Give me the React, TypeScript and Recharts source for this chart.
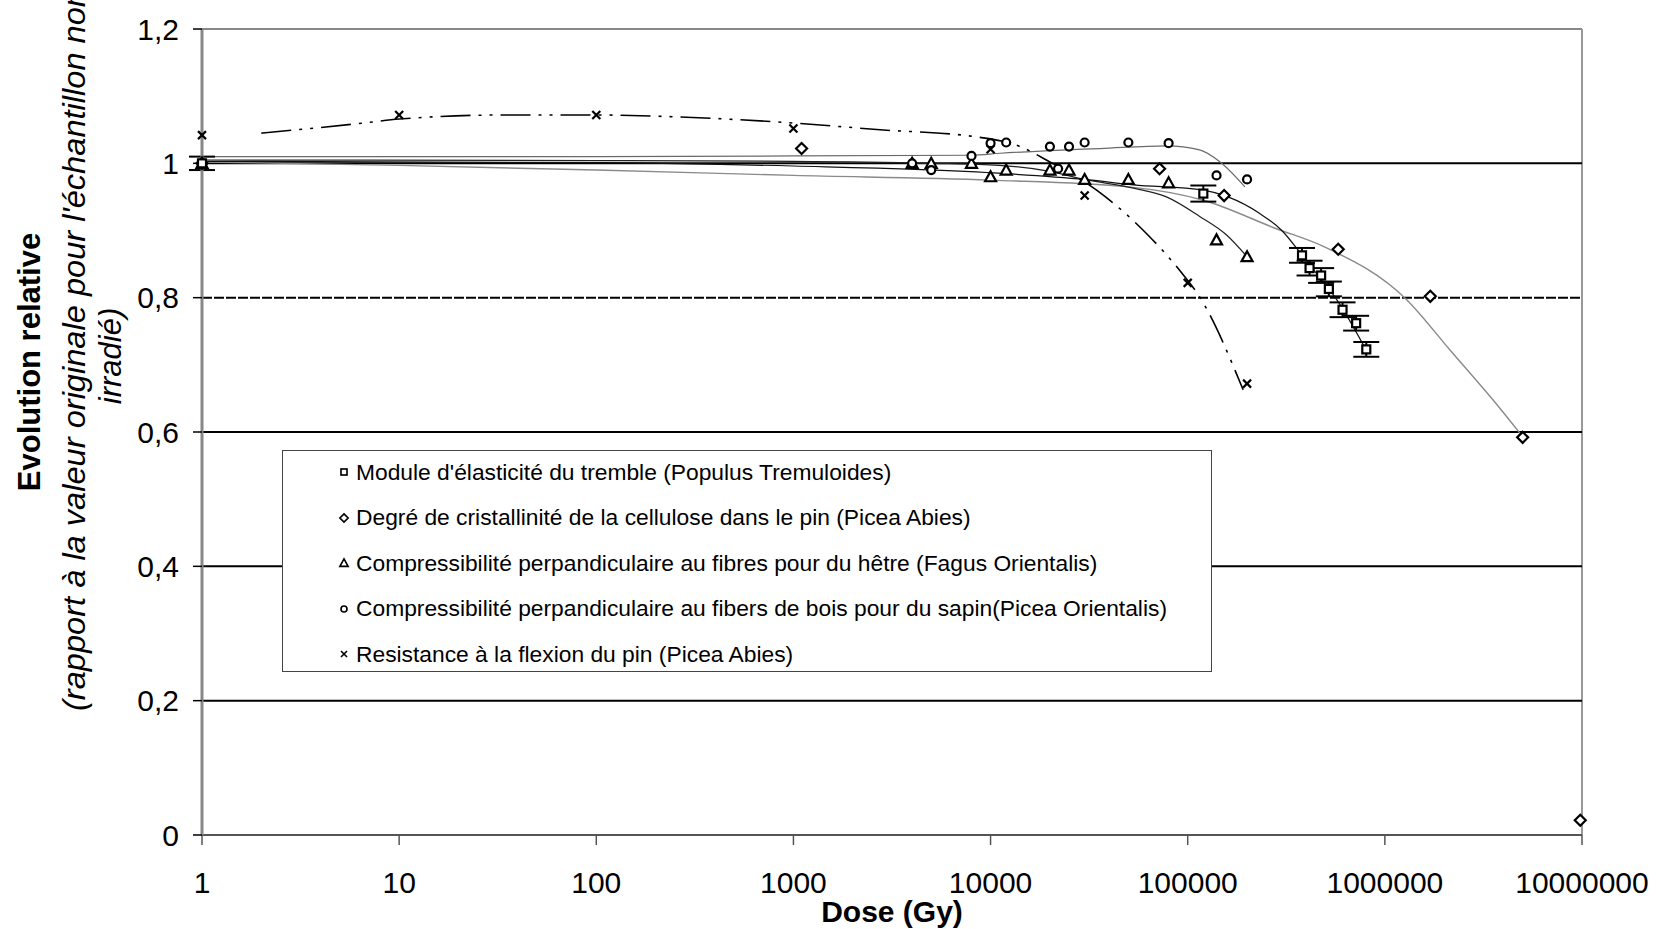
import React from 'react';
import {
  ComposedChart,
  Scatter,
  Line,
  XAxis,
  YAxis,
  ErrorBar,
  ReferenceLine,
} from 'recharts';

// measured points
const squareX = [1, 120000, 380000, 415000, 475000, 520000, 610000, 715000, 805000];
const squareY = [1.0, 0.955, 0.863, 0.844, 0.833, 0.813, 0.782, 0.762, 0.723];
const squareErr = [0.01, 0.012, 0.011, 0.011, 0.011, 0.011, 0.011, 0.011, 0.011];

const diamondX = [1, 1100, 72000, 153000, 580000, 1700000, 5000000, 9800000];
const diamondY = [1.0, 1.022, 0.992, 0.952, 0.872, 0.802, 0.592, 0.022];

const triangleX = [1, 4000, 5000, 8000, 10000, 12000, 20000, 25000, 30000, 50000, 80000, 140000, 200000];
const triangleY = [1.0, 1.0, 1.0, 1.0, 0.98, 0.99, 0.99, 0.99, 0.976, 0.976, 0.971, 0.886, 0.861];

const circleX = [1, 4000, 5000, 8000, 10000, 12000, 20000, 22000, 25000, 30000, 50000, 80000, 140000, 200000];
const circleY = [1.0, 1.0, 0.99, 1.011, 1.03, 1.031, 1.025, 0.992, 1.025, 1.031, 1.031, 1.03, 0.982, 0.976];

const crossX = [1, 10, 100, 1000, 10000, 30000, 100000, 200000];
const crossY = [1.042, 1.072, 1.072, 1.052, 1.021, 0.952, 0.822, 0.672];

// trend lines
const squareTrendX = [1, 100, 1000, 10000, 30000, 53000, 120000, 160000, 230000, 300000, 370000, 450000, 570000, 810000];
const squareTrendY = [1.003, 1.001, 0.996, 0.986, 0.976, 0.968, 0.96, 0.95, 0.926, 0.9, 0.868, 0.836, 0.797, 0.72];

const diamondTrendX = [1, 10, 100, 1000, 10000, 50000, 120000, 280000, 490000, 1290000, 2140000, 3840000, 4850000];
const diamondTrendY = [1.002, 0.997, 0.99, 0.982, 0.975, 0.965, 0.945, 0.903, 0.876, 0.797, 0.722, 0.635, 0.598];

const triangleTrendX = [1, 100, 1000, 5000, 11000, 20000, 30000, 53000, 78000, 115000, 158000, 200000];
const triangleTrendY = [1.005, 1.004, 1.003, 1.0, 0.997, 0.988, 0.976, 0.963, 0.95, 0.921, 0.893, 0.861];

const circleTrendX = [1, 100, 1000, 8000, 11200, 20000, 36000, 78000, 115000, 146000, 195000];
const circleTrendY = [1.01, 1.01, 1.011, 1.012, 1.015, 1.019, 1.022, 1.026, 1.02, 1.002, 0.965];

const crossTrendX = [2, 6.6, 10, 35, 100, 266, 1000, 2750, 8170, 14100, 20000, 34500, 63000, 91400, 115000, 191000];
const crossTrendY = [1.045, 1.06, 1.066, 1.072, 1.072, 1.069, 1.06, 1.05, 1.04, 1.025, 1.002, 0.96, 0.893, 0.84, 0.801, 0.663];

const xTicks = [1, 10, 100, 1000, 10000, 100000, 1000000, 10000000];
const yTicks = [0, 0.2, 0.4, 0.6, 0.8, 1, 1.2];

const seriesNames = [
  "Module d'élasticité du tremble (Populus Tremuloides)",
  'Degré de cristallinité de la cellulose dans le pin (Picea Abies)',
  'Compressibilité perpandiculaire au fibres pour du hêtre (Fagus Orientalis)',
  'Compressibilité perpandiculaire au fibers de bois pour du sapin(Picea Orientalis)',
  'Resistance à la flexion du pin (Picea Abies)',
];

const zip = (xs: number[], ys: number[], err?: number[]) =>
  xs.map((x, i) => (err ? { x, y: ys[i], err: err[i] } : { x, y: ys[i] }));

const FONT = '"Liberation Sans", Arial, sans-serif';

const SquareMark = ({ cx, cy }: any) => (
  <rect x={cx - 4} y={cy - 4} width={8} height={8} fill="#fff" stroke="#000" strokeWidth={2.2} />
);
const DiamondMark = ({ cx, cy }: any) => (
  <polygon points={`${cx},${cy - 5.5} ${cx + 5.5},${cy} ${cx},${cy + 5.5} ${cx - 5.5},${cy}`} fill="#fff" stroke="#000" strokeWidth={2.2} />
);
const TriangleMark = ({ cx, cy }: any) => (
  <polygon points={`${cx},${cy - 5.5} ${cx + 5.5},${cy + 4.5} ${cx - 5.5},${cy + 4.5}`} fill="#fff" stroke="#000" strokeWidth={2.2} />
);
const CircleMark = ({ cx, cy }: any) => (
  <circle cx={cx} cy={cy} r={4} fill="#fff" stroke="#000" strokeWidth={2.2} />
);
const CrossMark = ({ cx, cy }: any) => (
  <g stroke="#000" strokeWidth={2.2}>
    <line x1={cx - 4} y1={cy - 4} x2={cx + 4} y2={cy + 4} />
    <line x1={cx - 4} y1={cy + 4} x2={cx + 4} y2={cy - 4} />
  </g>
);

const legendMarks = [SquareMark, DiamondMark, TriangleMark, CircleMark, CrossMark];

export default function App() {
  return (
    <div style={{ position: 'absolute', left: 0, top: 0, width: 1668, height: 929, background: '#fff', fontFamily: FONT }}>
      <ComposedChart width={1668} height={929} margin={{ top: 29, right: 86, left: 0, bottom: 0 }}>
        <XAxis
          dataKey="x"
          type="number"
          scale="log"
          domain={[1, 10000000]}
          ticks={xTicks}
          height={94}
          tickSize={10}
          tickMargin={27}
          axisLine={{ stroke: '#555', strokeWidth: 2 }}
          tickLine={{ stroke: '#555', strokeWidth: 1.5 }}
          tick={{ fill: '#000', fontSize: 30, fontFamily: FONT }}
          interval={0}
        />
        <YAxis
          dataKey="y"
          type="number"
          domain={[0, 1.2]}
          ticks={yTicks}
          width={202}
          tickSize={9}
          tickMargin={14}
          axisLine={{ stroke: '#888', strokeWidth: 3 }}
          tickLine={{ stroke: '#000', strokeWidth: 1.5 }}
          tick={{ fill: '#000', fontSize: 30, fontFamily: FONT }}
          tickFormatter={(v: number) => String(v).replace('.', ',')}
          interval={0}
        />
        <ReferenceLine y={1.2} stroke="#888" strokeWidth={2} />
        <ReferenceLine x={10000000} stroke="#999" strokeWidth={2} />
        <ReferenceLine y={1} stroke="#000" strokeWidth={2} />
        <ReferenceLine y={0.8} stroke="#000" strokeWidth={2} strokeDasharray="10 2" />
        <ReferenceLine y={0.6} stroke="#000" strokeWidth={2} />
        <ReferenceLine y={0.4} stroke="#000" strokeWidth={2} />
        <ReferenceLine y={0.2} stroke="#000" strokeWidth={2} />

        <Line data={zip(diamondTrendX, diamondTrendY)} dataKey="y" type="monotone" stroke="#8a8a8a" strokeWidth={1.4} dot={false} isAnimationActive={false} />
        <Line data={zip(circleTrendX, circleTrendY)} dataKey="y" type="monotone" stroke="#6a6a6a" strokeWidth={1.2} dot={false} isAnimationActive={false} />
        <Line data={zip(triangleTrendX, triangleTrendY)} dataKey="y" type="monotone" stroke="#222" strokeWidth={1.2} dot={false} isAnimationActive={false} />
        <Line data={zip(squareTrendX, squareTrendY)} dataKey="y" type="monotone" stroke="#111" strokeWidth={1.2} dot={false} isAnimationActive={false} />
        <Line data={zip(crossTrendX, crossTrendY)} dataKey="y" type="monotone" stroke="#000" strokeWidth={1.6} strokeDasharray="30 8 3 8 3 8" dot={false} isAnimationActive={false} />

        <Scatter data={zip(diamondX, diamondY)} shape={DiamondMark} isAnimationActive={false} />
        <Scatter data={zip(triangleX, triangleY)} shape={TriangleMark} isAnimationActive={false} />
        <Scatter data={zip(circleX, circleY)} shape={CircleMark} isAnimationActive={false} />
        <Scatter data={zip(crossX, crossY)} shape={CrossMark} isAnimationActive={false} />
        <Scatter data={zip(squareX, squareY, squareErr)} shape={SquareMark} isAnimationActive={false}>
          <ErrorBar dataKey="err" direction="y" width={13} stroke="#000" strokeWidth={2} />
        </Scatter>
      </ComposedChart>

      <svg width={1668} height={929} style={{ position: 'absolute', left: 0, top: 0, pointerEvents: 'none' }}>
        <text transform="translate(40,362) rotate(-90)" textAnchor="middle" fontFamily={FONT} fontWeight="bold" fontSize={31} fill="#000">
          Evolution relative
        </text>
        <text transform="translate(85,711) rotate(-90)" textAnchor="start" fontFamily={FONT} fontStyle="italic" fontSize={31} fill="#000" textLength={722} lengthAdjust="spacingAndGlyphs">
          (rapport à la valeur originale pour l'échantillon non
        </text>
        <text transform="translate(121,356) rotate(-90)" textAnchor="middle" fontFamily={FONT} fontStyle="italic" fontSize={31} fill="#000">
          irradié)
        </text>
        <text x={892} y={922} textAnchor="middle" fontFamily={FONT} fontWeight="bold" fontSize={30} fill="#000">
          Dose (Gy)
        </text>
      </svg>

      <div
        style={{
          position: 'absolute',
          left: 282,
          top: 450,
          width: 928,
          height: 220,
          border: '1px solid #444',
          background: '#fff',
        }}
      >
        {seriesNames.map((name, i) => {
          const Mark = legendMarks[i];
          return (
            <div key={name} style={{ position: 'absolute', left: 0, top: 21 + i * 45.5 - 15, height: 30, display: 'flex', alignItems: 'center' }}>
              <svg width={80} height={30} style={{ display: 'block' }}>
                <g transform="translate(61,15) scale(0.75)">
                  <Mark cx={0} cy={0} />
                </g>
              </svg>
              <span style={{ fontSize: 22.8, fontFamily: FONT, color: '#000', whiteSpace: 'nowrap', marginLeft: -7 }}>{name}</span>
            </div>
          );
        })}
      </div>
    </div>
  );
}
